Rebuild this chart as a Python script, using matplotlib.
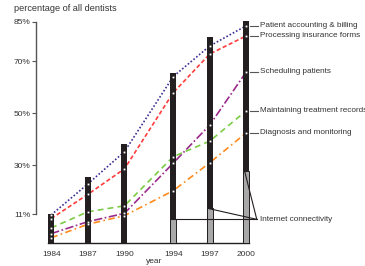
import numpy as np
import matplotlib.pyplot as plt

# ==========================================================
# DATA
# ==========================================================

years = [1984, 1987, 1990, 1994, 1997, 2000]

bar_top = [11.3, 25.3, 38.0, 65.3, 79.1, 85.5]
internet = [0, 0, 0, 9.1, 13.3, 27.7]

accounting = [10.8, 22.7, 35.1, 64.0, 75.8, 83.6]
insurance = [9.4, 18.7, 28.5, 57.8, 72.7, 79.7]
scheduling = [3.6, 8.2, 11.4, 30.7, 45.4, 65.9]
records = [5.8, 12.0, 14.3, 33.2, 39.2, 50.9]
diagnosis = [2.0, 7.2, 10.5, 20.1, 30.9, 42.4]

series_names = ["Patient accounting & billing",
                "Processing insurance forms",
                "Scheduling patients",
                "Maintaining treatment records",
                "Diagnosis and monitoring"]

ytick_vals = [11, 30, 50, 70, 85]
ytick_labels = ["11%", "30%", "50%", "70%", "85%"]

# ==========================================================
# STYLE
# ==========================================================

plt.rcParams["font.family"] = ["Liberation Sans", "DejaVu Sans"]
TXT = "#333333"
BAR = "#231f20"
FS = 6.0

series = [
    (accounting, "#3d2f94", (0, (1, 1.2))),
    (insurance, "#ff3b3b", (0, (2.5, 1.5))),
    (scheduling, "#9a2a8c", (0, (5, 1.5, 1, 1.5))),
    (records, "#7ccb45", (0, (3.5, 2.5))),
    (diagnosis, "#ff8a1c", (0, (4, 2, 1, 2))),
]

fig = plt.figure(figsize=(3.65, 2.66), dpi=100)
ax = fig.add_axes([35.7 / 365, (266 - 243) / 266,
                   (251.5 - 35.7) / 365, (243 - 22) / 266])

x0, px_per_year = 1984 - (51.2 - 35.7) / 12.2, 12.2
ax.set_xlim(x0, x0 + (251.5 - 35.7) / px_per_year)
ax.set_ylim(0, 85)

# lines behind the bars
for vals, col, ls in series:
    ax.plot(years, vals, color=col, linestyle=ls, linewidth=1.2, zorder=1)

# bars
ax.bar(years, bar_top, width=0.5, color=BAR, zorder=2, clip_on=False)
yrs_net = [y for y, v in zip(years, internet) if v > 0]
net_vals = [v for v in internet if v > 0]
ax.bar(yrs_net, net_vals, width=0.5, color="#a8a8a8", edgecolor=BAR,
       linewidth=0.7, zorder=3)

# white markers on bars
for vals, col, ls in series:
    ax.plot(years, vals, linestyle="none", marker="s", markersize=1.3,
            markerfacecolor="white", markeredgewidth=0, zorder=4,
            clip_on=False)

# labels at the right
lx0, lx1, tx = 2000.3, 2000.95, 2001.1
for (vals, col, ls), name in zip(series, series_names):
    ax.plot([lx0, lx1], [vals[-1], vals[-1]], color="#555555",
            linewidth=0.8, clip_on=False, zorder=2)
    ax.text(tx, vals[-1], name, fontsize=5.9, color=TXT, va="center",
            ha="left", clip_on=False)

# internet connectivity leaders
conv_x, conv_y = 2000.85, internet[3]
for y, v in zip(yrs_net, net_vals):
    ax.plot([y - 0.15, conv_x], [v, conv_y], color=BAR, linewidth=0.8,
            clip_on=False, zorder=5)
ax.text(tx, conv_y, "Internet connectivity", fontsize=5.9, color=TXT,
        va="center", ha="left", clip_on=False)

# axes styling
for s in ["top", "right"]:
    ax.spines[s].set_visible(False)
ax.spines["left"].set_bounds(11, 85)
ax.spines["left"].set_color("#555555")
ax.spines["left"].set_linewidth(1.0)
ax.spines["bottom"].set_bounds(1983.75, 2000.25)
ax.spines["bottom"].set_color(BAR)
ax.spines["bottom"].set_linewidth(1.0)

ax.set_yticks(ytick_vals)
ax.set_yticklabels(ytick_labels)
ax.tick_params(axis="y", length=3, width=0.8, color="#555555",
               labelsize=FS, labelcolor=TXT, pad=1)
ax.set_xticks(years)
ax.set_xticklabels([str(y) for y in years])
ax.tick_params(axis="x", length=0, labelsize=FS, labelcolor=TXT, pad=6)

ax.text(-0.1, 1.04, "percentage of all dentists", transform=ax.transAxes,
        fontsize=6.6, color=TXT, ha="left", va="bottom")
ax.text(1992.4, -7.0, "year", fontsize=FS, color=TXT, ha="center",
        va="center", clip_on=False)

fig.savefig("out.png", dpi=100)
